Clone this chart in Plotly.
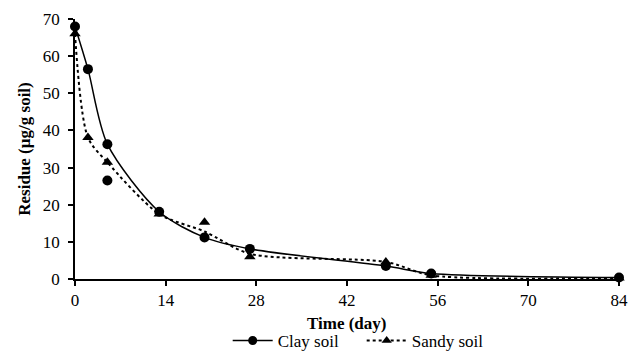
import plotly.graph_objects as go

# Measured residues (markers)
clay_days = [0, 2, 5, 5, 13, 20, 27, 48, 55, 84]
clay_vals = [68.0, 56.5, 36.3, 26.5, 18.1, 11.2, 8.1, 3.5, 1.5, 0.4]
sandy_days = [0, 2, 5, 13, 20, 27, 48, 55, 84]
sandy_vals = [66.0, 38.1, 31.4, 17.5, 15.3, 6.0, 4.6, 1.0, 0.3]

# Smoothed trend lines
clay_line_days = [0, 2, 5, 13, 20, 27, 48, 55, 84]
clay_line_vals = [68.0, 56.5, 36.3, 18.1, 11.2, 8.1, 3.5, 1.5, 0.4]
sandy_line_days = [0, 2, 5, 13, 20, 27, 48, 55, 84]
sandy_line_vals = [66.0, 38.1, 31.4, 17.5, 12.8, 6.8, 4.6, 1.0, 0.3]

x_ticks = [0, 14, 28, 42, 56, 70, 84]
y_ticks = [0, 10, 20, 30, 40, 50, 60, 70]
x_title = "Time (day)"
y_title = "Residue (µg/g soil)"

FONT = "Liberation Serif, Times New Roman, serif"
FS = 17

fig = go.Figure()
fig.add_trace(go.Scatter(x=clay_line_days, y=clay_line_vals, mode="lines",
                         line=dict(color="black", width=1.5, shape="spline", smoothing=0.8),
                         showlegend=False, hoverinfo="skip"))
fig.add_trace(go.Scatter(x=sandy_line_days, y=sandy_line_vals, mode="lines",
                         line=dict(color="black", width=2, dash="dot", shape="spline", smoothing=0.8),
                         showlegend=False, hoverinfo="skip"))
fig.add_trace(go.Scatter(x=clay_days, y=clay_vals, mode="markers",
                         marker=dict(symbol="circle", size=10, color="black"),
                         showlegend=False, cliponaxis=False))
fig.add_trace(go.Scatter(x=sandy_days, y=sandy_vals, mode="markers",
                         marker=dict(symbol="triangle-up", size=10, color="black"),
                         showlegend=False, cliponaxis=False))
# legend entries
fig.add_trace(go.Scatter(x=[None], y=[None], mode="lines+markers", name="Clay soil",
                         line=dict(color="black", width=1.5),
                         marker=dict(symbol="circle", size=9, color="black")))
fig.add_trace(go.Scatter(x=[None], y=[None], mode="lines+markers", name="Sandy soil",
                         line=dict(color="black", width=2, dash="dot"),
                         marker=dict(symbol="triangle-up", size=9, color="black")))

fig.update_layout(
    width=628, height=359,
    margin=dict(l=75, r=9, t=19, b=80, autoexpand=False),
    plot_bgcolor="white", paper_bgcolor="white",
    font=dict(family=FONT, size=FS, color="black"),
    legend=dict(orientation="h", x=0.527, xanchor="center",
                yref="container", y=0.0, yanchor="bottom",
                font=dict(family=FONT, size=FS), itemwidth=40, tracegroupgap=0,
                entrywidth=79),
    annotations=[dict(text="<b>" + x_title + "</b>", xref="paper", yref="paper",
                      x=0.5, y=0, yshift=-44, xanchor="center", yanchor="middle",
                      showarrow=False, font=dict(family=FONT, size=FS))],
)
fig.update_xaxes(range=[0, 84], tickvals=x_ticks, ticktext=[str(v) for v in x_ticks],
                 showgrid=False, zeroline=False, showline=True, linecolor="black", linewidth=1.5,
                 ticks="outside", ticklen=5, tickwidth=1.5, tickcolor="black",
                 tickfont=dict(family=FONT, size=FS))
fig.update_yaxes(range=[0, 70], tickvals=y_ticks, ticktext=[str(v) for v in y_ticks],
                 showgrid=False, zeroline=False, showline=True, linecolor="black", linewidth=1.5,
                 ticks="outside", ticklen=5, tickwidth=1.5, tickcolor="black",
                 tickfont=dict(family=FONT, size=FS), ticklabelstandoff=5,
                 title=dict(text="<b>" + y_title + "</b>", font=dict(family=FONT, size=FS), standoff=8))

fig.write_html("out.html", config={"displayModeBar": False},
               post_script="document.body.style.margin='0';document.body.style.overflow='hidden';")
